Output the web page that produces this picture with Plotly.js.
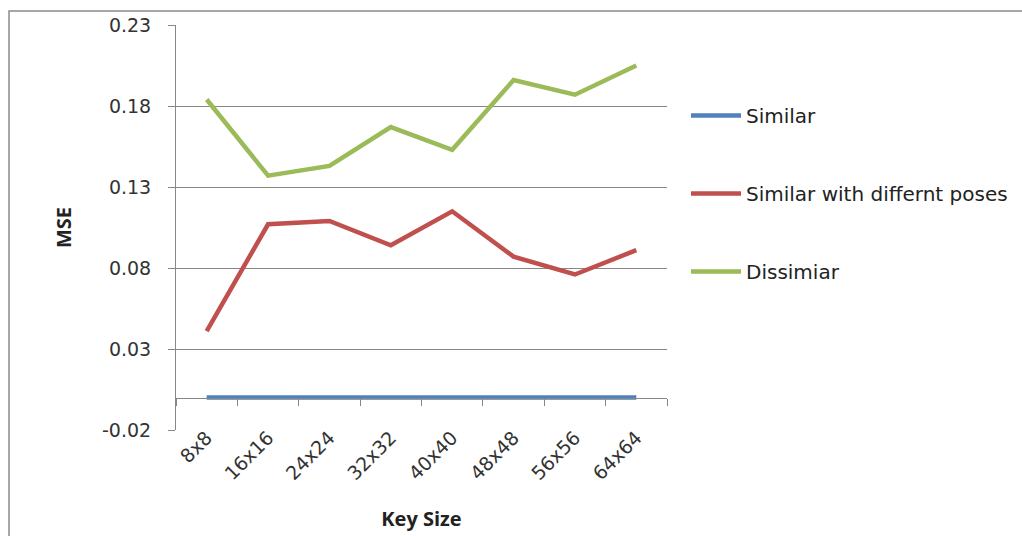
<!DOCTYPE html>
<html>
<head>
<meta charset="utf-8">
<script src="https://cdn.plot.ly/plotly-3.0.1.min.js"></script>
<style>html,body{margin:0;padding:0;background:#fff;}#chart{width:1022px;height:536px;}</style>
</head>
<body>
<div id="chart"></div>
<script>
const categories = ['8x8','16x16','24x24','32x32','40x40','48x48','56x56','64x64'];
const similar = [0, 0, 0, 0, 0, 0, 0, 0];
const similarPoses = [0.041, 0.107, 0.109, 0.094, 0.115, 0.087, 0.076, 0.091];
const dissimilar = [0.184, 0.137, 0.143, 0.167, 0.153, 0.196, 0.187, 0.205];
const seriesNames = ['Similar', 'Similar with differnt poses', 'Dissimiar'];
const yTickVals = [-0.02, 0.03, 0.08, 0.13, 0.18, 0.23];
const yTickText = ['-0.02', '0.03', '0.08', '0.13', '0.18', '0.23'];
const xTitle = 'Key Size';
const yTitle = 'MSE';

const colors = ['#4F81BD', '#C0504D', '#9BBB59'];
const yMin = yTickVals[0], yMax = yTickVals[yTickVals.length - 1];
const W = 1022, H = 536;
const L = 176, R = 355, T = 25, B = 106;
const pw = W - L - R, ph = H - T - B;
const gridColor = '#878787';
const tickFont = {family: 'DejaVu Sans', size: 19, color: '#333333'};
const titleFont = {family: 'Open Sans', size: 20, color: '#222222', weight: 'bold'};

const traces = [
  {x: categories, y: similar, name: seriesNames[0], xaxis: 'x2', legendgroup: 'a'},
  {x: categories, y: similarPoses, name: seriesNames[1], xaxis: 'x', legendgroup: 'b'},
  {x: categories, y: dissimilar, name: seriesNames[2], xaxis: 'x', legendgroup: 'c'}
].map((t, i) => Object.assign(t, {
  type: 'scatter', mode: 'lines',
  line: {color: colors[i], width: 4.5},
  hoverinfo: 'skip'
}));

const layout = {
  width: W, height: H,
  margin: {l: L, r: R, t: T, b: B, pad: 0, autoexpand: false},
  paper_bgcolor: '#ffffff', plot_bgcolor: '#ffffff',
  showlegend: true,
  legend: {
    x: (686 - L) / pw, xanchor: 'left',
    y: 1 - (96 - T) / ph, yanchor: 'top',
    traceorder: 'grouped', tracegroupgap: 49,
    itemwidth: 50,
    font: {family: 'DejaVu Sans', size: 20, color: '#222222'},
    bgcolor: 'rgba(0,0,0,0)'
  },
  xaxis: {
    type: 'category', range: [-0.5, categories.length - 0.5],
    showgrid: false, zeroline: false, showline: false, ticks: '',
    tickangle: -45, tickfont: tickFont, ticklabelstandoff: -8,
    title: {text: xTitle, font: titleFont, standoff: 28},
    fixedrange: true
  },
  xaxis2: {
    type: 'category', overlaying: 'x', anchor: 'free',
    position: (0 - yMin) / (yMax - yMin),
    range: [-0.5, categories.length - 0.5],
    showgrid: false, zeroline: false, showline: true, linecolor: gridColor, linewidth: 1,
    ticks: 'outside', tickson: 'boundaries', ticklen: 7, tickcolor: gridColor,
    showticklabels: false, fixedrange: true
  },
  yaxis: {
    range: [yMin, yMax], tickvals: yTickVals, ticktext: yTickText,
    showgrid: true, gridcolor: gridColor, gridwidth: 1,
    zeroline: false, showline: true, linecolor: gridColor, linewidth: 1,
    ticks: 'outside', ticklen: 7, tickcolor: gridColor,
    tickfont: tickFont, ticklabelstandoff: 13,
    title: {text: yTitle, font: titleFont, standoff: 25},
    fixedrange: true
  },
  shapes: [{
    type: 'rect', xref: 'paper', yref: 'paper', layer: 'below',
    x0: (9 - L) / pw, x1: (1040 - L) / pw,
    y0: 1 - (560 - T) / ph, y1: 1 + (T - 11) / ph,
    line: {color: '#8a8a8a', width: 1.5}, fillcolor: 'rgba(0,0,0,0)'
  }]
};

Plotly.newPlot('chart', traces, layout, {displayModeBar: false, staticPlot: true});
</script>
</body>
</html>
